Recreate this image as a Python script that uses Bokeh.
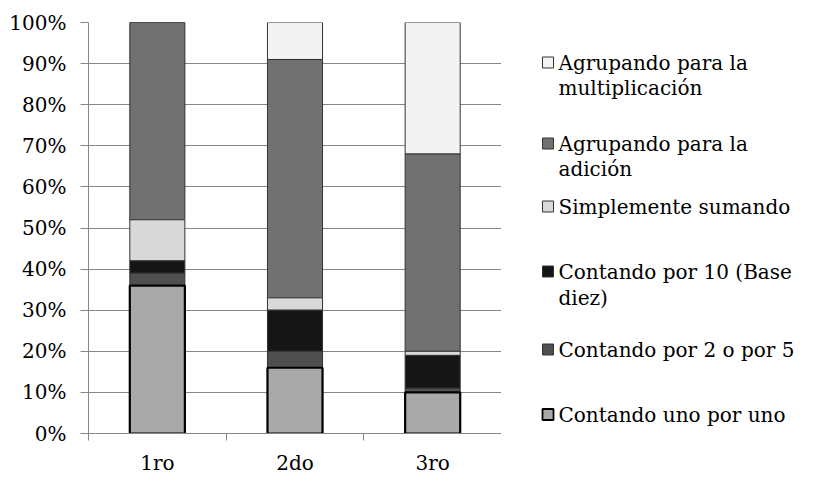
import numpy as np
from bokeh.plotting import figure
from bokeh.layouts import row
from bokeh.models import Range1d, FixedTicker, NumeralTickFormatter
from bokeh.core.properties import value
from bokeh.embed import file_html
from bokeh.resources import INLINE

# ---- data ----
categories = ["1ro", "2do", "3ro"]
series_names = [
    "Contando uno por uno",
    "Contando por 2 o por 5",
    "Contando por 10 (Base diez)",
    "Simplemente sumando",
    "Agrupando para la adición",
    "Agrupando para la multiplicación",
]
uno_por_uno = [36, 16, 10]
por_2_o_5 = [3, 4, 1]
base_diez = [3, 10, 8]
simplemente = [10, 3, 1]
agrupando_adicion = [48, 58, 48]
agrupando_mult = [0, 9, 32]
y_ticks = [0, 10, 20, 30, 40, 50, 60, 70, 80, 90, 100]

# legend labels (line-broken as in the reference), top to bottom
legend_labels = [
    ["Agrupando para la", "multiplicación"],
    ["Agrupando para la", "adición"],
    ["Simplemente sumando"],
    ["Contando por 10 (Base", "diez)"],
    ["Contando por 2 o por 5"],
    ["Contando uno por uno"],
]

# ---- styles ----
colors = ["#a9a9a9", "#4f4f4f", "#151515", "#d9d9d9", "#717171", "#f3f3f3"]
line_widths = [2.2, 1, 1, 1, 1, 1]
line_colors = ["#000000", "#333333", "#333333", "#333333", "#333333", "#333333"]
FONT = "DejaVu Serif"
FS = "20px"
GRID = "#868686"

series = [uno_por_uno, por_2_o_5, base_diez, simplemente, agrupando_adicion, agrupando_mult]
vals = np.array(series, dtype=float) / 100.0
tops = np.cumsum(vals, axis=0)
bottoms = tops - vals
xs = [i + 0.5 for i in range(len(categories))]

p = figure(frame_width=413, frame_height=411, x_range=Range1d(0, len(categories)),
           y_range=Range1d(0, 1), output_backend="svg", toolbar_location=None,
           min_border_left=88, min_border_right=0, min_border_top=22,
           min_border_bottom=42)
p.outline_line_color = None
p.background_fill_color = "white"
p.border_fill_color = "white"

# draw from top series down, bottom one last so its thick border sits on top
for k in reversed(range(len(series))):
    p.vbar(x=xs, width=0.4, bottom=bottoms[k], top=tops[k],
           fill_color=colors[k], line_color=line_colors[k],
           line_width=line_widths[k])

# y axis
ya = p.yaxis[0]
ya.ticker = FixedTicker(ticks=[t / 100 for t in y_ticks])
ya.formatter = NumeralTickFormatter(format="0%")
ya.axis_line_color = GRID
ya.major_tick_line_color = GRID
ya.major_tick_out = 8
ya.major_tick_in = 0
ya.minor_tick_line_color = None
ya.major_label_standoff = 14
ya.major_label_text_font = FONT
ya.major_label_text_font_size = FS
ya.major_label_text_color = "#000000"

p.ygrid.ticker = FixedTicker(ticks=[t / 100 for t in y_ticks])
p.ygrid.grid_line_color = GRID
p.xgrid.visible = False

# x axis: labels at category centres, ticks at boundaries
xa = p.xaxis[0]
xa.ticker = FixedTicker(ticks=xs, minor_ticks=list(range(len(categories) + 1)))
xa.major_label_overrides = {x: c for x, c in zip(xs, categories)}
xa.axis_line_color = GRID
xa.major_tick_line_color = None
xa.major_tick_out = 0
xa.major_tick_in = 0
xa.minor_tick_line_color = GRID
xa.minor_tick_out = 7
xa.minor_tick_in = 0
xa.major_label_standoff = 10
xa.major_label_text_font = FONT
xa.major_label_text_font_size = FS
xa.major_label_text_color = "#000000"

# ---- legend panel (data units = screen pixels of the page) ----
LW = 310
leg = figure(frame_width=LW, frame_height=411, x_range=Range1d(501, 501 + LW),
             y_range=Range1d(433, 22), output_backend="svg",
             toolbar_location=None, x_axis_location=None, y_axis_location=None,
             min_border_left=0, min_border_right=0, min_border_top=22,
             min_border_bottom=42)
leg.outline_line_color = None
leg.grid.visible = False

legend_line_y = [[62, 87], [143, 168], [206], [271, 297], [349], [414]]
legend_series_idx = [5, 4, 3, 2, 1, 0]
for labels, ys, k in zip(legend_labels, legend_line_y, legend_series_idx):
    leg.rect(x=[547.5], y=[ys[0]], width=11, height=11,
             fill_color=colors[k], line_color=line_colors[k],
             line_width=1.8 if k == 0 else 1)
    leg.text(x=[558] * len(labels), y=ys, text=labels,
             text_font=value(FONT), text_font_size=FS,
             text_baseline="middle", text_align="left", text_color="#000000")

layout = row(p, leg)
open("out.html", "w").write(file_html(layout, INLINE))
